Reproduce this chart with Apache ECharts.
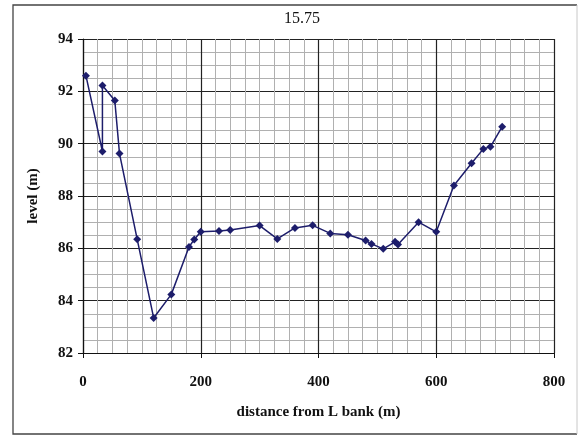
<!DOCTYPE html>
<html><head><meta charset="utf-8">
<script src="https://cdn.jsdelivr.net/npm/echarts@6/dist/echarts.min.js"></script>
<style>html,body{margin:0;padding:0;background:#fff}#c{width:581px;height:437px}</style>
</head><body><div id="c"></div>
<script>
var titleText = '15.75';
var xName = 'distance from L bank (m)';
var yName = 'level (m)';
var distance = [5, 33, 33, 54, 62, 92, 120, 150, 180, 189, 200, 231, 250, 300, 330, 360, 390, 420, 450, 480, 490, 510, 530, 535, 570, 600, 630, 660, 680, 692, 712];
var level = [92.6, 89.7, 92.22, 91.65, 89.62, 86.35, 83.34, 84.24, 86.05, 86.34, 86.63, 86.66, 86.7, 86.87, 86.36, 86.78, 86.88, 86.57, 86.52, 86.3, 86.17, 85.98, 86.25, 86.15, 87.0, 86.63, 88.4, 89.25, 89.8, 89.88, 90.65];

var pts = distance.map(function (d, i) { return [d, level[i]]; });
var font = 'Liberation Serif, DejaVu Serif, serif';
var chart = echarts.init(document.getElementById('c'), null, {renderer: 'canvas'});
chart.setOption({
  animation: false,
  backgroundColor: '#fff',
  title: {text: titleText, left: 297, top: 6, textAlign: 'center',
    textStyle: {fontFamily: font, fontWeight: 'normal', fontSize: 16, color: '#111'}},
  graphic: [
    {type: 'polyline', shape: {points: [[577, 5], [13, 5], [13, 434], [577, 434]]},
      style: {fill: null, stroke: '#444', lineWidth: 1.3}, z: -1},
    {type: 'line', shape: {x1: 577, y1: 5, x2: 577, y2: 434},
      style: {stroke: '#c8c8c8', lineWidth: 1}, z: -1}
  ],
  grid: {left: 83, right: 27, top: 39, bottom: 84, containLabel: false},
  xAxis: {type: 'value', min: 0, max: 800, interval: 200,
    name: xName, nameLocation: 'middle', nameGap: 52,
    nameTextStyle: {fontFamily: font, fontWeight: 'bold', fontSize: 15, color: '#111'},
    axisLine: {show: true, onZero: false, lineStyle: {color: '#111', width: 1.2}},
    axisTick: {show: true, inside: false, length: 5, lineStyle: {color: '#111'}},
    axisLabel: {margin: 22, fontFamily: font, fontWeight: 'bold', fontSize: 15, color: '#111'},
    splitLine: {show: true, lineStyle: {color: '#222', width: 1.2}},
    minorTick: {show: false, splitNumber: 8},
    minorSplitLine: {show: true, lineStyle: {color: '#b0b0b0', width: 1}}},
  yAxis: {type: 'value', min: 82, max: 94, interval: 2,
    name: yName, nameLocation: 'middle', nameGap: 42, nameRotate: 90,
    nameTextStyle: {fontFamily: font, fontWeight: 'bold', fontSize: 15, color: '#111'},
    axisLine: {show: true, onZero: false, lineStyle: {color: '#111', width: 1.2}},
    axisTick: {show: true, inside: false, length: 5, lineStyle: {color: '#111'}},
    axisLabel: {margin: 10, fontFamily: font, fontWeight: 'bold', fontSize: 15, color: '#111'},
    splitLine: {show: true, lineStyle: {color: '#222', width: 1.2}},
    minorTick: {show: false, splitNumber: 4},
    minorSplitLine: {show: true, lineStyle: {color: '#b0b0b0', width: 1}}},
  series: [{type: 'line', data: pts, symbol: 'diamond', symbolSize: 8,
    lineStyle: {color: '#1d1d6b', width: 1.5},
    itemStyle: {color: '#1d1d6b'}}]
});
</script></body></html>
